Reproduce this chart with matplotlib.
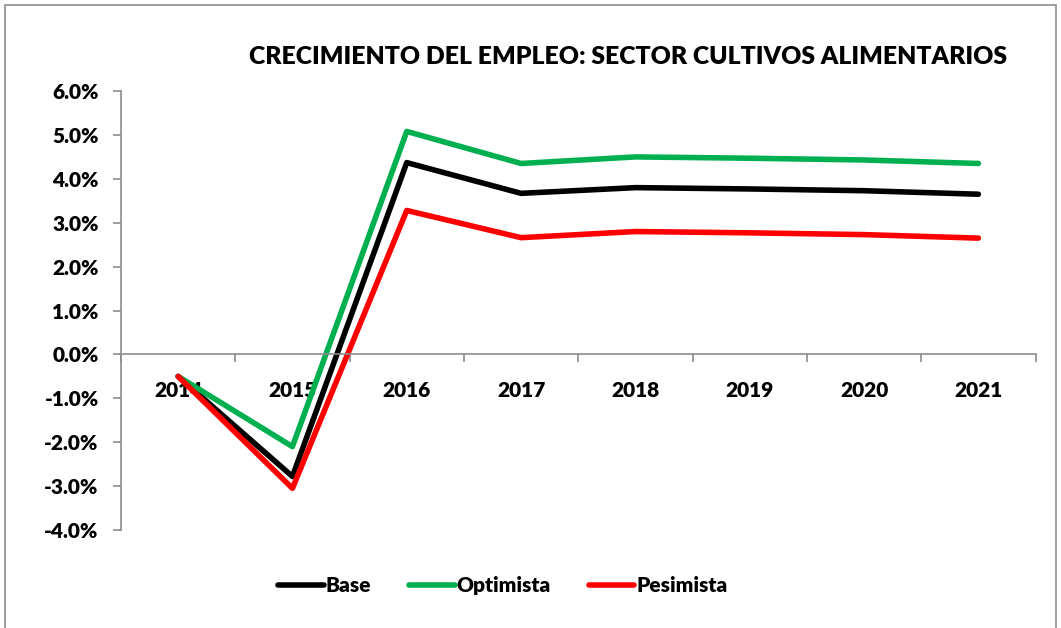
import matplotlib.pyplot as plt
import matplotlib.patches as mpatches
import numpy as np

years = ['2014', '2015', '2016', '2017', '2018', '2019', '2020', '2021']
base = [-0.50, -2.78, 4.37, 3.67, 3.80, 3.77, 3.73, 3.65]
optimista = [-0.50, -2.10, 5.08, 4.35, 4.50, 4.47, 4.43, 4.35]
pesimista = [-0.50, -3.05, 3.28, 2.66, 2.80, 2.77, 2.73, 2.65]

plt.rcParams['font.family'] = ['Lato', 'DejaVu Sans']
plt.rcParams['font.weight'] = 'heavy'
W = 'heavy'

fig = plt.figure(figsize=(10.61, 6.28), dpi=100)
ax = fig.add_axes([0.114, 0.156, 0.862, 0.699])

# marco gris del grafico
fig.patches.append(mpatches.Rectangle((5 / 1061, -0.01), 1051 / 1061, 1.0 - 5 / 628 + 0.01,
                                      transform=fig.transFigure, fill=False,
                                      edgecolor='#8c8c8c', linewidth=1.2))

x = np.arange(len(years))
ax.plot(x, base, color='black', linewidth=4, solid_capstyle='round', label='Base')
ax.plot(x, optimista, color='#00b050', linewidth=4, solid_capstyle='round', label='Optimista')
ax.plot(x, pesimista, color='#ff0000', linewidth=4, solid_capstyle='round', label='Pesimista')

ax.set_xlim(-0.5, len(years) - 0.5)
ax.set_ylim(-4, 6)
ax.set_yticks(np.arange(-4, 7, 1))
ax.set_yticklabels([f'{v:.1f}%' for v in np.arange(-4, 7, 1)], fontsize=15, fontweight=W)

# ejes estilo excel
for s in ['top', 'right']:
    ax.spines[s].set_visible(False)
ax.spines['left'].set_color('#8c8c8c')
ax.spines['bottom'].set_color('#8c8c8c')
ax.spines['bottom'].set_position(('data', 0))
ax.spines['left'].set_linewidth(1.2)
ax.spines['bottom'].set_linewidth(1.2)

ax.set_xticks(np.arange(-0.5, len(years), 1))
ax.set_xticklabels([])
ax.set_xticks(x, minor=True)
ax.set_xticklabels(years, minor=True, fontsize=15, fontweight=W)
ax.tick_params(axis='x', which='major', direction='out', length=6, color='#8c8c8c', width=1.2)
ax.tick_params(axis='x', which='minor', length=0, pad=19)
ax.tick_params(axis='y', direction='out', length=6, color='#8c8c8c', width=1.2, pad=10)

fig.text(0.592, 0.909, 'CRECIMIENTO DEL EMPLEO: SECTOR CULTIVOS ALIMENTARIOS',
         ha='center', va='center', fontsize=17.8, fontweight=W)

leg = fig.legend(loc='center', bbox_to_anchor=(0.474, 0.068), ncol=3, frameon=False,
                 fontsize=15, handlelength=2.2, columnspacing=1.8, handletextpad=0.1)
for t in leg.get_texts():
    t.set_fontweight(W)

fig.savefig('out.png', dpi=100)
